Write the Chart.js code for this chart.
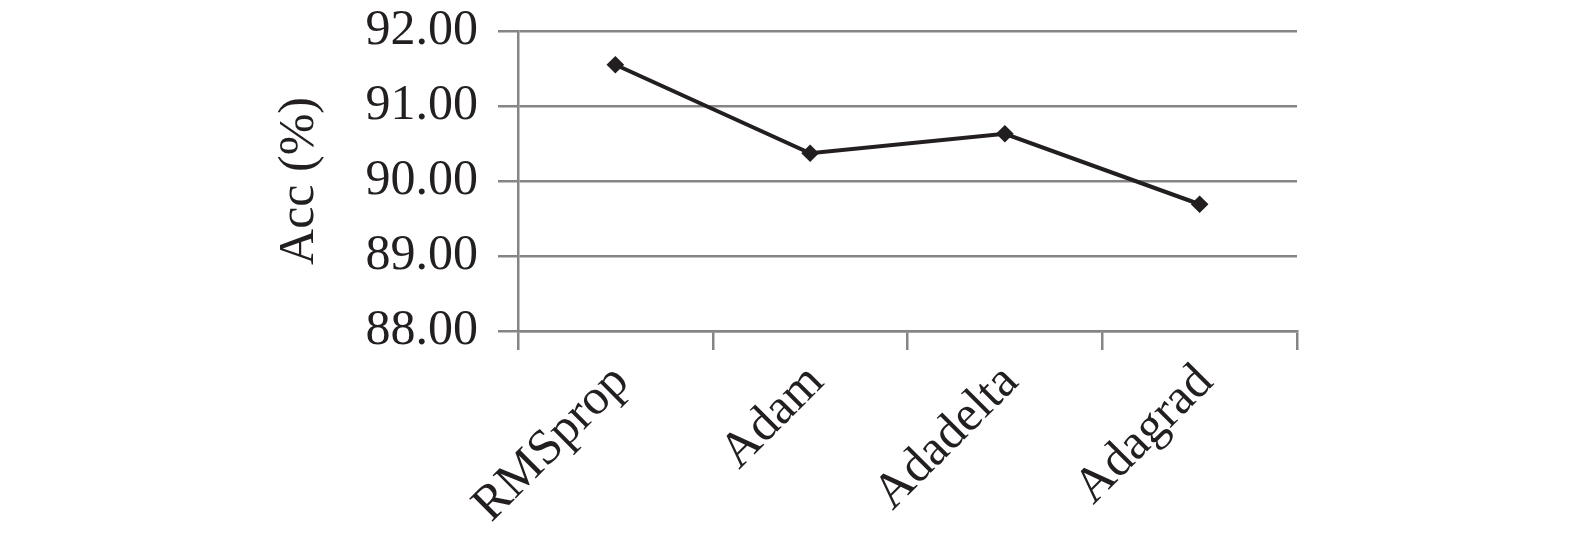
<!DOCTYPE html>
<html>
<head>
<meta charset="utf-8">
<script src="https://cdn.jsdelivr.net/npm/chart.js@4.4.1/dist/chart.umd.min.js"></script>
<style>
    html, body { margin: 0; padding: 0; background: #fff; }
    #wrap { width: 1575px; height: 539px; }
</style>
</head>
<body>
<div id="wrap"><canvas id="accChart" width="1575" height="539"></canvas></div>
<script>
"use strict";

const optimizers = ["RMSprop", "Adam", "Adadelta", "Adagrad"];
const accValues = [91.55, 90.37, 90.63, 89.69];
const yTicks = [88, 89, 90, 91, 92];
const yTitle = "Acc (%)";

(() => {
    const textColor = "#231f20";
    const gridColor = "#858585";
    const serif = "'Liberation Serif', 'Times New Roman', serif";

    const ctx = document.getElementById("accChart").getContext("2d");
    new Chart(ctx, {
        type: "line",
        data: {
            labels: optimizers,
            datasets: [{
                data: accValues,
                borderColor: textColor,
                backgroundColor: textColor,
                borderWidth: 4,
                pointStyle: "rectRot",
                pointRadius: 6,
                tension: 0,
            }],
        },
        options: {
            responsive: false,
            animation: false,
            layout: { padding: { left: 270, right: 278, top: 31, bottom: 0 } },
            plugins: {
                legend: { display: false },
                tooltip: { enabled: false },
            },
            scales: {
                x: {
                    offset: true,
                    afterFit: (scale) => { scale.height = 208; },
                    grid: {
                        offset: true,
                        drawOnChartArea: false,
                        color: gridColor,
                        lineWidth: 2.5,
                        tickLength: 19,
                    },
                    border: { color: gridColor, width: 2.5 },
                    ticks: {
                        color: textColor,
                        font: { family: serif, size: 50 },
                        minRotation: 45,
                        maxRotation: 45,
                        padding: 3,
                        labelOffset: 6,
                    },
                },
                y: {
                    min: yTicks[0],
                    max: yTicks[yTicks.length - 1],
                    afterFit: (scale) => {
                        scale.width = 248;
                        // keep the plot top where the reference has it
                        scale.paddingTop = 0;
                        scale.paddingBottom = 0;
                    },
                    afterBuildTicks: (scale) => {
                        scale.ticks = yTicks.map((v) => ({ value: v }));
                    },
                    grid: {
                        color: gridColor,
                        lineWidth: 2.5,
                        tickLength: 20,
                    },
                    border: { color: gridColor, width: 2.5 },
                    ticks: {
                        color: textColor,
                        font: { family: serif, size: 50 },
                        padding: 20,
                        callback: (v) => Number(v).toFixed(2),
                    },
                    title: {
                        display: true,
                        text: yTitle,
                        color: textColor,
                        font: { family: serif, size: 50, lineHeight: 1.2 },
                        padding: 0,
                    },
                },
            },
        },
    });
})();
</script>
</body>
</html>
